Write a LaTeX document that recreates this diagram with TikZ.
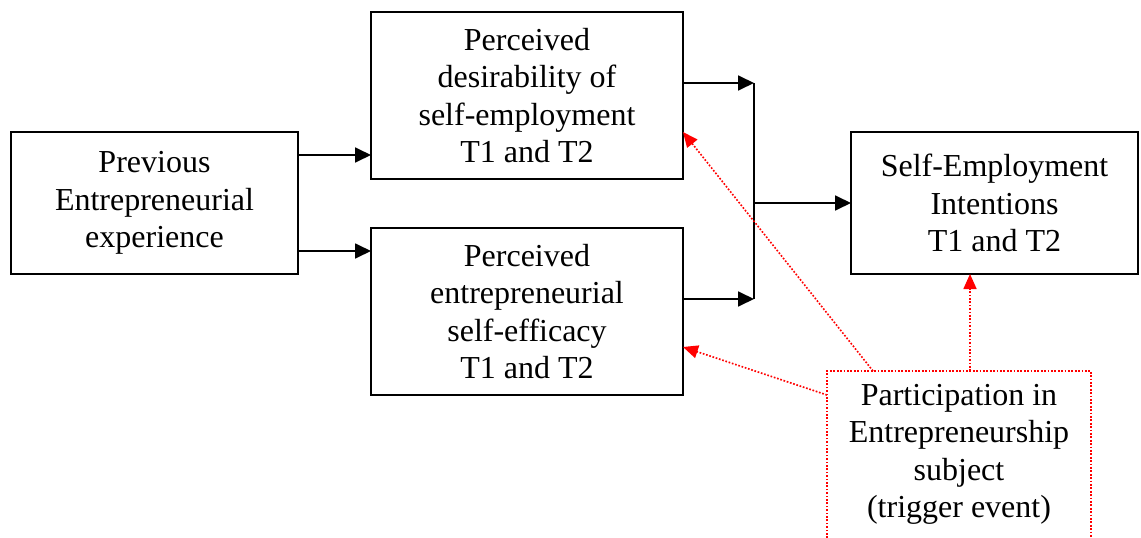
\documentclass[tikz,border=0pt]{standalone}
\usepackage{fontspec}
\setmainfont{Liberation Serif}
\usetikzlibrary{arrows.meta}
\begin{document}
\begin{tikzpicture}[x=1pt,y=-1pt,
  box/.style={draw, line width=1.8pt, inner sep=0pt, outer sep=0pt,
    anchor=north west, align=center, font=\fontsize{32}{37.5}\selectfont},
  arr/.style={line width=1.8pt, -{Triangle[length=16pt,width=15pt]}},
  link/.style={line width=1.8pt},
  cue/.style={red, line width=1.6pt, dash pattern=on 1.7pt off 1.7pt},
  cuearr/.style={cue, -{Triangle[length=15pt,width=13pt]}},
]
\useasboundingbox (0,0) rectangle (1141,538);

% boxes
\node[box, minimum width=287pt, minimum height=142pt] (prev) at (11,132)
  {Previous\\Entrepreneurial\\experience};
\node[box, minimum width=312pt, minimum height=167pt] (desir) at (371,12)
  {Perceived\\desirability of\\self-employment\\T1 and T2};
\node[box, minimum width=312pt, minimum height=167pt] (effic) at (371,228)
  {Perceived\\entrepreneurial\\self-efficacy\\T1 and T2};
\node[box, minimum width=287pt, minimum height=142pt] (intent) at (851,132)
  {Self-Employment\\Intentions\\T1 and T2};
\node[box, draw=none, minimum width=264pt, minimum height=167pt] (trig) at (827,371)
  {Participation in\\Entrepreneurship\\subject\\(trigger event)};
% open dotted frame of the trigger event
\draw[cue] (trig.south west) -- (trig.north west) -- (trig.north east) -- (trig.south east);

% helper coordinates
\coordinate (ya) at (0,155);
\coordinate (yb) at (0,251);
\coordinate (ja) at (754,83);
\coordinate (jb) at (754,299);
\coordinate (jm) at (754,203);
\coordinate (xa) at (873,0);
\coordinate (xb) at (970,0);
\coordinate (yc) at (0,395);
\coordinate (yd) at (0,347);
\coordinate (ye) at (0,132);

% black connectors
\draw[arr] (prev.east |- ya) -- (desir.west |- ya);
\draw[arr] (prev.east |- yb) -- (effic.west |- yb);
\draw[arr] (desir.east |- ja) -- (ja);
\draw[arr] (effic.east |- jb) -- (jb);
\draw[link] (ja) -- (jb);
\draw[arr] (jm) -- (intent.west |- jm);

% red dotted influences
\draw[cuearr] (trig.north -| xa) -- (desir.east |- ye);
\draw[cuearr] (trig.west |- yc) -- (effic.east |- yd);
\draw[cuearr] (trig.north -| xb) -- (intent.south -| xb);
\end{tikzpicture}
\end{document}
